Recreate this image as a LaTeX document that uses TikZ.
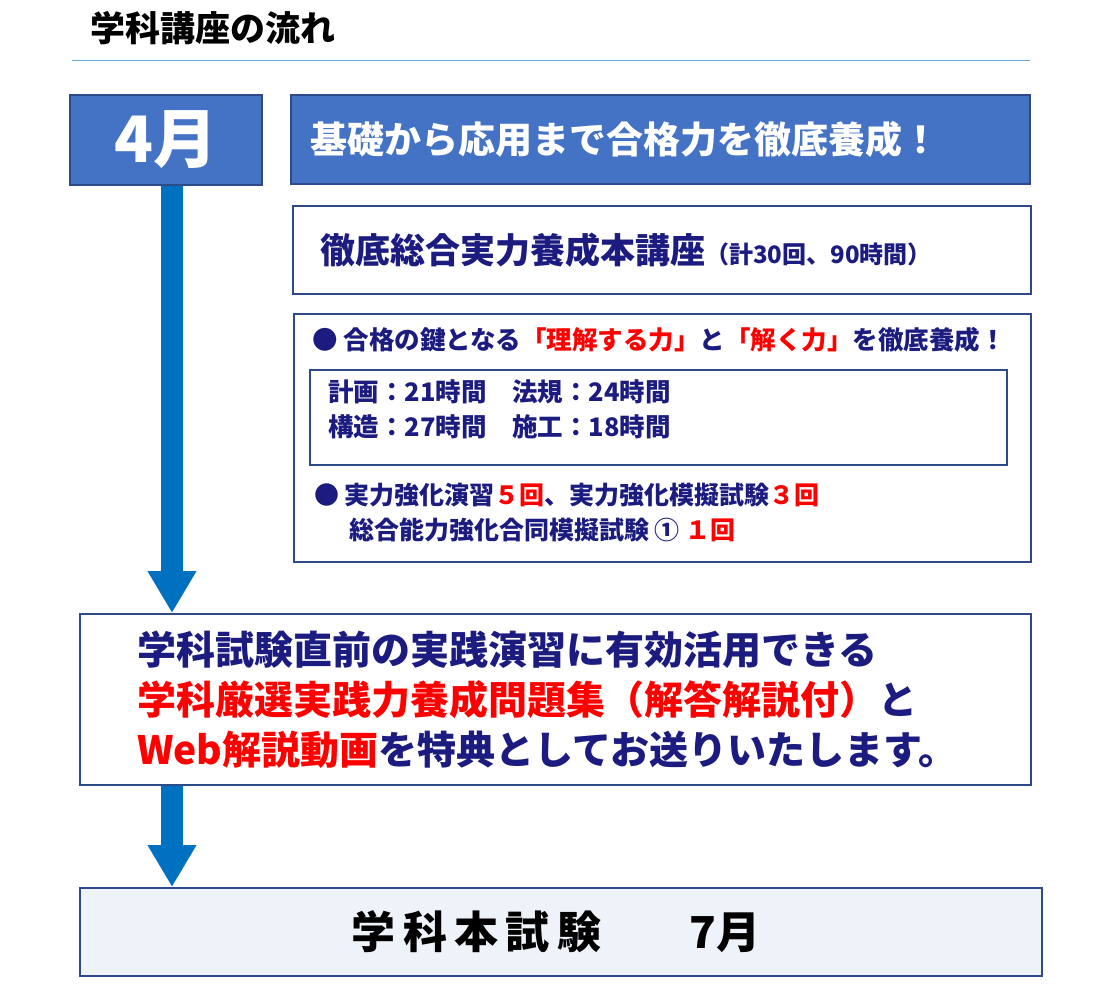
\documentclass[tikz,border=0pt]{standalone}
\usepackage{fontspec}
\setmainfont{Noto Sans CJK JP}
\usetikzlibrary{arrows.meta}
\definecolor{hdblue}{HTML}{4472C4}
\definecolor{bdblue}{HTML}{2F4A8A}
\definecolor{navy}{HTML}{1C1C80}
\definecolor{arblue}{HTML}{0070C0}
\definecolor{pale}{HTML}{EEF3FA}
\tikzset{
  headbox/.style={draw=bdblue, line width=2pt, fill=hdblue, text=white, font=\bfseries},
  framebox/.style={draw=bdblue, line width=2pt, fill=white},
  flowarrow/.style={arblue, line width=22pt, -{Triangle[width=46pt,length=42pt]}},
  txt/.style={anchor=west, inner sep=0pt, text=navy, font=\bfseries}
}
\newcommand{\rd}[1]{\textcolor{red}{#1}}
\begin{document}
\begin{tikzpicture}[x=1pt,y=-1pt]
				\useasboundingbox (0,0) rectangle (1120,1003);
				\node[anchor=west, inner sep=0pt, font=\bfseries\fontsize{35}{35}\selectfont] (title) at (90,28) {学科講座の流れ};
				\draw[color=arblue!60, line width=0.8pt] (72,60) -- (1030,60);
				%
				\node[headbox, minimum width=192pt, minimum height=90pt, font=\bfseries\fontsize{64}{64}\selectfont] (month) at (166,140) {4月};
				\node[headbox, minimum width=739pt, minimum height=89pt] (lead) at (660.5,139.5) {};
				\node[anchor=west, inner sep=0pt, text=white, font=\bfseries\fontsize{37}{37}\selectfont] at (310,139) {基礎から応用まで合格力を徹底養成！};
				%
				\node[framebox, minimum width=738pt, minimum height=88pt] (course) at (662,250) {};
				\node[txt] at (320,250) {\fontsize{35}{35}\selectfont 徹底総合実力養成本講座\fontsize{24}{24}\selectfont（計30回、90時間）};
				%
				\node[framebox, minimum width=737pt, minimum height=248pt] (detail) at (662.5,438) {};
				\node[txt, font=\bfseries\fontsize{25.5}{25.5}\selectfont] at (312,340) {● 合格の鍵となる\rd{「理解する力」}と\rd{「解く力」}を徹底養成！};
				\node[draw=bdblue, line width=2pt, minimum width=697pt, minimum height=95pt] (hours) at (658.5,417.5) {};
				\node[txt, font=\bfseries\fontsize{25.5}{25.5}\selectfont] at (328,392) {計画：21時間\quad 法規：24時間};
				\node[txt, font=\bfseries\fontsize{25.5}{25.5}\selectfont] at (328,427) {構造：27時間\quad 施工：18時間};
				\node[txt, font=\bfseries\fontsize{25}{25}\selectfont] at (314,495) {● 実力強化演習\rd{５回}、実力強化模擬試験\rd{３回}};
				\node[txt, font=\bfseries\fontsize{25}{25}\selectfont] at (349,530) {総合能力強化合同模擬試験 ① \rd{１回}};
				%
				\node[framebox, minimum width=951pt, minimum height=171pt] (bonus) at (555.5,699.5) {};
				\node[txt, font=\bfseries\fontsize{39}{39}\selectfont] at (137,650) {学科試験直前の実践演習に有効活用できる};
				\node[txt, font=\bfseries\fontsize{39}{39}\selectfont] at (137,700) {\rd{学科厳選実践力養成問題集（解答解説付）}と};
				\node[txt, font=\bfseries\fontsize{39}{39}\selectfont] at (137,750) {\rd{Web解説動画}を特典としてお送りいたします。};
				%
				\node[framebox, fill=pale, minimum width=962pt, minimum height=88pt] (exam) at (561,932) {};
				\node[anchor=center, inner sep=0pt, font=\bfseries\fontsize{44}{44}\selectfont] at (556,932) {学\,科\,本\,試\,験\qquad 7月};
				%
				\coordinate (a0) at (172,186);
				\coordinate (a1) at (172,613);
				\coordinate (a2) at (172,786);
				\coordinate (a3) at (172,887);
				\draw[flowarrow] (a0) -- (a1);
				\draw[flowarrow] (a2) -- (a3);
			\end{tikzpicture}
\end{document}
